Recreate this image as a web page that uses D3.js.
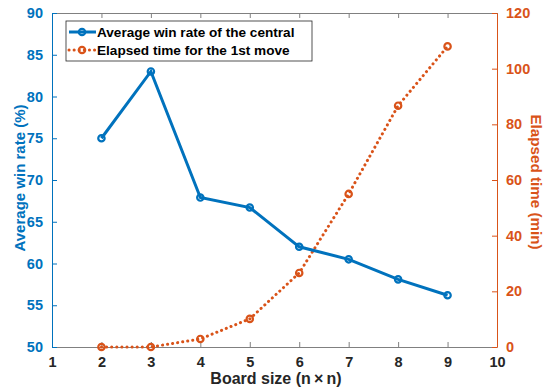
<!DOCTYPE html>
<html>
<head>
<meta charset="utf-8">
<script src="https://cdn.jsdelivr.net/npm/d3@7"></script>
<style>
  body { margin: 0; background: #fff; }
  svg text { font-family: "Liberation Sans", Arial, sans-serif; font-weight: bold; }
</style>
</head>
<body>
<svg id="chart" width="552" height="392"></svg>
<script>
  // board sizes (n x n)
  const boardSizes = [2, 3, 4, 5, 6, 7, 8, 9];
  // average win rate of the central move (%)
  const winRate = [75, 83, 67.9, 66.7, 62, 60.5, 58.1, 56.2];
  // elapsed time for the 1st move (min)
  const elapsedTime = [0, 0, 2.9, 10.1, 26.6, 55, 86.7, 108];

  const xTicks = [1, 2, 3, 4, 5, 6, 7, 8, 9, 10];
  const yLeftTicks = [50, 55, 60, 65, 70, 75, 80, 85, 90];
  const yRightTicks = [0, 20, 40, 60, 80, 100, 120];

  const blue = '#0072BD', orange = '#D95319', grey = '#262626';

  let svg = d3.select('#chart'),
    padLeft = 52, padRight = 497, padTop = 13, padBottom = 347;

  let x = d3.scaleLinear().domain([1, 10]).range([padLeft, padRight]);
  let yL = d3.scaleLinear().domain([50, 90]).range([padBottom, padTop]);
  let yR = d3.scaleLinear().domain([0, 120]).range([padBottom, padTop]);

  /*
   * axes
   */
  function styleAxis(g, color) {
    g.select('.domain').attr('stroke', color);
    g.selectAll('.tick line').attr('stroke', color);
    g.selectAll('.tick text').attr('fill', color).style('font-size', '14.5px');
  }

  // top edge of the box
  svg.append('g')
    .attr('transform', 'translate(0,' + padTop + ')')
    .call(d3.axisTop(x).tickValues(xTicks).tickSizeInner(-5).tickSizeOuter(0).tickFormat(''))
    .call(g => { g.select('.domain').attr('stroke', '#808080'); g.selectAll('.tick line').attr('stroke', '#808080'); });

  let gx = svg.append('g')
    .attr('transform', 'translate(0,' + padBottom + ')')
    .call(d3.axisBottom(x).tickValues(xTicks).tickSizeInner(-5).tickSizeOuter(0).tickPadding(10));
  styleAxis(gx, grey);
  gx.select('.domain').attr('stroke', '#808080');
  gx.selectAll('.tick line').attr('stroke', '#808080');

  let gyl = svg.append('g')
    .attr('transform', 'translate(' + padLeft + ',0)')
    .call(d3.axisLeft(yL).tickValues(yLeftTicks).tickSizeInner(-5).tickSizeOuter(0).tickPadding(9));
  styleAxis(gyl, blue);

  let gyr = svg.append('g')
    .attr('transform', 'translate(' + padRight + ',0)')
    .call(d3.axisRight(yR).tickValues(yRightTicks).tickSizeInner(-5).tickSizeOuter(0).tickPadding(9));
  styleAxis(gyr, orange);

  // axis labels
  svg.append('text')
    .attr('x', 276).attr('y', 384)
    .attr('text-anchor', 'middle')
    .style('font-size', '16px').attr('fill', grey)
    .text('Board size (n\u2009\u00d7\u2009n)');

  svg.append('text')
    .attr('transform', 'translate(25,178) rotate(-90)')
    .attr('text-anchor', 'middle')
    .style('font-size', '15px').attr('fill', blue)
    .text('Average win rate (%)');

  svg.append('text')
    .attr('transform', 'translate(531,182) rotate(90)')
    .attr('text-anchor', 'middle')
    .style('font-size', '15.2px').attr('fill', orange)
    .text('Elapsed time (min)');

  /*
   * lines
   */
  let winLine = d3.line().x((d, i) => x(boardSizes[i])).y(d => yL(d));
  let timeLine = d3.line().x((d, i) => x(boardSizes[i])).y(d => yR(d));

  svg.append('path')
    .datum(elapsedTime)
    .attr('d', timeLine)
    .attr('fill', 'none')
    .attr('stroke', orange)
    .attr('stroke-width', 3)
    .attr('stroke-dasharray', '0.1 5')
    .attr('stroke-linecap', 'round');

  svg.append('g').selectAll('circle')
    .data(elapsedTime)
    .enter()
    .append('circle')
    .attr('cx', (d, i) => x(boardSizes[i]))
    .attr('cy', d => yR(d))
    .attr('r', 3.2)
    .attr('fill', 'none')
    .attr('stroke', orange)
    .attr('stroke-width', 2.2);

  svg.append('path')
    .datum(winRate)
    .attr('d', winLine)
    .attr('fill', 'none')
    .attr('stroke', blue)
    .attr('stroke-width', 3);

  svg.append('g').selectAll('circle')
    .data(winRate)
    .enter()
    .append('circle')
    .attr('cx', (d, i) => x(boardSizes[i]))
    .attr('cy', d => yL(d))
    .attr('r', 3.2)
    .attr('fill', 'none')
    .attr('stroke', blue)
    .attr('stroke-width', 2.2);

  /*
   * legend
   */
  let legend = svg.append('g').attr('transform', 'translate(66,21)');
  legend.append('rect')
    .attr('width', 246).attr('height', 40)
    .attr('fill', '#fff').attr('stroke', '#262626').attr('stroke-width', 0.8);

  legend.append('line')
    .attr('x1', 3).attr('x2', 30).attr('y1', 11).attr('y2', 11)
    .attr('stroke', blue).attr('stroke-width', 3);
  legend.append('circle')
    .attr('cx', 16).attr('cy', 11).attr('r', 3.2)
    .attr('fill', 'none').attr('stroke', blue).attr('stroke-width', 2.2);
  legend.append('text')
    .attr('x', 31).attr('y', 16)
    .style('font-size', '13.6px').attr('fill', '#000')
    .text('Average win rate of the central');

  legend.append('line')
    .attr('x1', 3).attr('x2', 30).attr('y1', 29).attr('y2', 29)
    .attr('stroke', orange).attr('stroke-width', 3)
    .attr('stroke-dasharray', '0.1 5').attr('stroke-linecap', 'round');
  legend.append('circle')
    .attr('cx', 16).attr('cy', 29).attr('r', 3.2)
    .attr('fill', 'none').attr('stroke', orange).attr('stroke-width', 2.2);
  legend.append('text')
    .attr('x', 31).attr('y', 34)
    .style('font-size', '13.6px').attr('fill', '#000')
    .text('Elapsed time for the 1st move');
</script>
</body>
</html>
